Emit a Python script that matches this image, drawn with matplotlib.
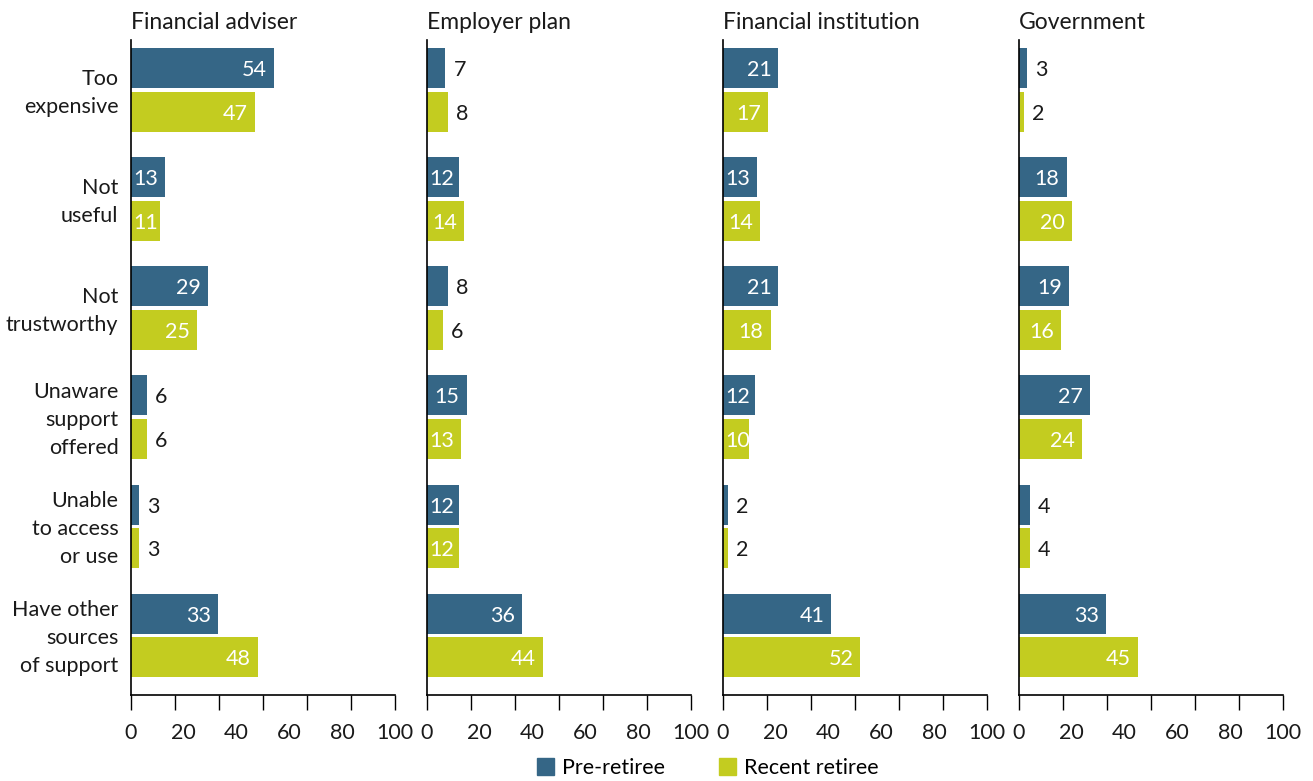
import numpy as np
import matplotlib
matplotlib.use('Agg')
import matplotlib.pyplot as plt
from matplotlib.patches import Patch

plt.rcParams['font.family'] = ['Lato', 'DejaVu Sans']

categories = ["Too\nexpensive", "Not\nuseful", "Not\ntrustworthy",
              "Unaware\nsupport\noffered", "Unable\nto access\nor use",
              "Have other\nsources\nof support"]
panels = ["Financial adviser", "Employer plan", "Financial institution", "Government"]
series = ["Pre-retiree", "Recent retiree"]

adviser_pre = [54, 13, 29, 6, 3, 33]
adviser_recent = [47, 11, 25, 6, 3, 48]
employer_pre = [7, 12, 8, 15, 12, 36]
employer_recent = [8, 14, 6, 13, 12, 44]
institution_pre = [21, 13, 21, 12, 2, 41]
institution_recent = [17, 14, 18, 10, 2, 52]
government_pre = [3, 18, 19, 27, 4, 33]
government_recent = [2, 20, 16, 24, 4, 45]

x_labels = [0, 20, 40, 60, 80, 100]

BLUE = '#356686'
GREEN = '#c3cc20'
TXT = '#1a1a1a'
FS = 15.5

data = [
    (adviser_pre, adviser_recent),
    (employer_pre, employer_recent),
    (institution_pre, institution_recent),
    (government_pre, government_recent),
]

fig = plt.figure(figsize=(13.13, 7.81), dpi=100)
lefts = [131, 427, 723, 1019]
W, H = 1313, 781

y = np.arange(len(categories))
bar_h = 0.367
off = 0.2

inside = []
for i, (name, (pre, recent)) in enumerate(zip(panels, data)):
    ax = fig.add_axes([lefts[i] / W, 1 - 695 / H, 264 / W, 655 / H])
    for vals, dy, col in ((pre, -off, BLUE), (recent, off, GREEN)):
        ax.barh(y + dy, vals, height=bar_h, color=col)
        for yy, v in zip(y + dy, vals):
            if v >= 10:
                t = ax.annotate(str(v), (v, yy), xytext=(-7, -2), textcoords='offset pixels',
                                ha='right', va='center', color='white', fontsize=FS)
                inside.append((ax, t, yy))
            else:
                ax.annotate(str(v), (v, yy), xytext=(8, -2), textcoords='offset pixels',
                            ha='left', va='center', color=TXT, fontsize=FS)

    ax.set_xlim(0, 100)
    ax.set_ylim(len(categories) - 1 + 0.546, -0.459)

    # labels at the round values, tick marks split the axis into six
    ax.set_xticks(x_labels)
    ax.set_xticklabels([str(v) for v in x_labels], fontsize=FS, color=TXT)
    ax.tick_params(axis='x', which='major', length=0, pad=20)
    ax.xaxis.remove_overlapping_locs = False
    ax.set_xticks(np.linspace(0, 100, 7), minor=True)
    ax.tick_params(axis='x', which='minor', length=11, width=1, color='black')

    # category labels sit a touch above the group centre
    ax.set_yticks(y - 0.03)
    if i == 0:
        ax.set_yticklabels(categories, fontsize=FS, color=TXT, linespacing=1.5)
    else:
        ax.set_yticklabels([])
    ax.tick_params(axis='y', length=0, pad=9)

    for s in ('top', 'right'):
        ax.spines[s].set_visible(False)
    for s in ('left', 'bottom'):
        ax.spines[s].set_linewidth(1.2)
        ax.spines[s].set_color('black')

    ax.set_title(name, loc='left', fontsize=FS + 1, color=TXT, pad=8)

# short bars: keep the value inside, pinned near the bar start
renderer = fig.canvas.get_renderer()
for ax, t, yy in inside:
    x0 = ax.transData.transform((0, yy))[0]
    if t.get_window_extent(renderer).x0 < x0 + 2:
        t.xy = (0, yy)
        t.set_ha('left')
        t.xyann = (2, -2)

handles = [Patch(color=BLUE), Patch(color=GREEN)]
fig.legend(handles, series, loc='center', bbox_to_anchor=(0.539, 0.0166), ncol=2,
           frameon=False, fontsize=FS, handlelength=0.8, handleheight=0.8,
           handletextpad=0.35, columnspacing=2.5, borderpad=0, borderaxespad=0)

fig.savefig('out.png', dpi=100)
